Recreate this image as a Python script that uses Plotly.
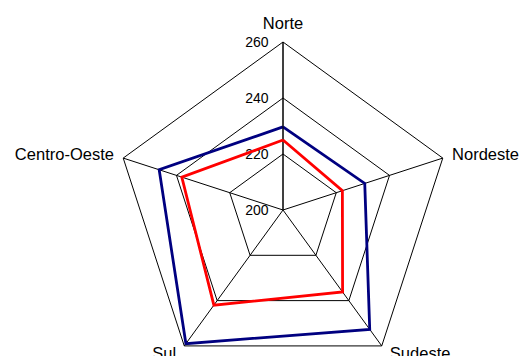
import plotly.graph_objects as go

regions = ["Norte", "Nordeste", "Sudeste", "Sul", "Centro-Oeste"]
serie_azul = [229.7, 230.7, 252.7, 259.0, 246.5]
serie_vermelha = [225.0, 222.3, 236.2, 242.0, 238.0]
radial_ticks = [200, 220, 240, 260]

# category labels: the upper ones sit further out, the lower ones hug the corners
upper_labels = [r if r in ("Norte", "Nordeste", "Centro-Oeste") else "" for r in regions]
lower_labels = [r if r in ("Sudeste", "Sul") else "" for r in regions]
no_labels = [""] * len(regions)

W, H = 521, 420
cx, cy, R = 283, 210, 168


def domain_at(x0, y0):
    return dict(x=[(x0 - R) / W, (x0 + R) / W],
                y=[(H - y0 - R) / H, (H - y0 + R) / H])


def closed(values):
    return values + values[:1]


def angular(ticktext, **kw):
    return dict(
        type="category", categoryorder="array", categoryarray=regions,
        direction="clockwise", rotation=90,
        tickmode="array", tickvals=regions, ticktext=ticktext,
        tickfont=dict(size=16.5, color="black"), **kw,
    )


fig = go.Figure()
fig.add_trace(go.Scatterpolar(
    r=closed(serie_azul), theta=closed(regions), mode="lines",
    line=dict(color="#000080", width=2.8), showlegend=False, subplot="polar",
))
fig.add_trace(go.Scatterpolar(
    r=closed(serie_vermelha), theta=closed(regions), mode="lines",
    line=dict(color="#FF0000", width=2.8), showlegend=False, subplot="polar2",
))
# empty trace so the label-only subplot for the lower corners gets built
fig.add_trace(go.Scatterpolar(
    r=[], theta=[], mode="lines", showlegend=False, hoverinfo="skip",
    subplot="polar3",
))

fig.update_layout(
    width=W, height=H,
    margin=dict(l=0, r=0, t=0, b=0),
    paper_bgcolor="white",
    font=dict(family="Liberation Sans, Arial, sans-serif", color="black"),
    polar=dict(
        domain=domain_at(cx, cy),
        bgcolor="white",
        gridshape="linear",
        radialaxis=dict(
            range=[200, 260], tickvals=radial_ticks,
            angle=90, tickangle=90, side="counterclockwise",
            showline=True, linecolor="black", linewidth=1,
            gridcolor="black", gridwidth=1,
            ticks="outside", ticklen=9, tickcolor="rgba(0,0,0,0)",
            tickfont=dict(size=14, color="black"),
        ),
        angularaxis=angular(no_labels, showline=True, linecolor="black",
                            linewidth=1, gridcolor="black", gridwidth=1,
                            ticks=""),
    ),
    polar2=dict(
        domain=domain_at(cx, cy),
        bgcolor="rgba(0,0,0,0)",
        gridshape="linear",
        radialaxis=dict(range=[200, 260], visible=False),
        angularaxis=angular(upper_labels, showline=False, showgrid=False,
                            ticks="outside", ticklen=6,
                            tickcolor="rgba(0,0,0,0)"),
    ),
    polar3=dict(
        domain=domain_at(cx, cy - 15),
        bgcolor="rgba(0,0,0,0)",
        gridshape="linear",
        radialaxis=dict(range=[200, 260], visible=False),
        angularaxis=angular(lower_labels, showline=False, showgrid=False,
                            ticks="outside", ticklen=10,
                            tickcolor="rgba(0,0,0,0)"),
    ),
)

fig.write_html("out.html",
               post_script="document.body.style.overflow='hidden';document.body.style.margin='0';")
